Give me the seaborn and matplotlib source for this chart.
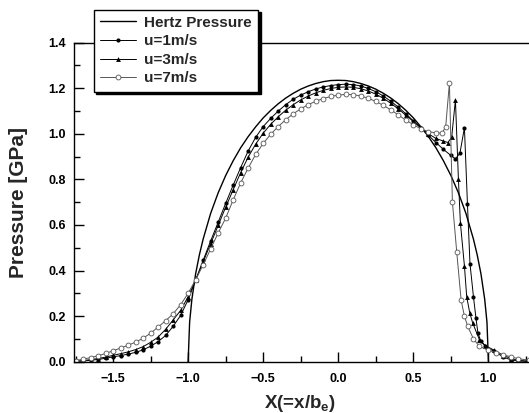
import matplotlib
matplotlib.use("Agg")
import matplotlib.pyplot as plt
import numpy as np
import pandas as pd
import seaborn as sns
from matplotlib.ticker import MultipleLocator

# Hertz pressure (dry contact)
hertz_x = [-1.0, -0.99, -0.975, -0.95, -0.925, -0.9, -0.85, -0.8, -0.75, -0.7, -0.65, -0.6,
           -0.55, -0.5, -0.45, -0.4, -0.35, -0.3, -0.25, -0.2, -0.15, -0.1, -0.05, 0.0,
           0.05, 0.1, 0.15, 0.2, 0.25, 0.3, 0.35, 0.4, 0.45, 0.5, 0.55, 0.6, 0.65, 0.7,
           0.75, 0.8, 0.85, 0.9, 0.925, 0.95, 0.975, 0.99, 1.0]
hertz_p = [0.0, 0.174, 0.274, 0.386, 0.469, 0.538, 0.651, 0.741, 0.817, 0.882, 0.939, 0.988,
           1.031, 1.070, 1.103, 1.132, 1.157, 1.178, 1.196, 1.210, 1.221, 1.229, 1.234, 1.235,
           1.234, 1.229, 1.221, 1.210, 1.196, 1.178, 1.157, 1.132, 1.103, 1.070, 1.031, 0.988,
           0.939, 0.882, 0.817, 0.741, 0.651, 0.538, 0.469, 0.386, 0.274, 0.174, 0.0]

dome_x = [-1.75, -1.7, -1.65, -1.6, -1.55, -1.5, -1.45, -1.4, -1.35, -1.3, -1.25, -1.2,
          -1.15, -1.1, -1.05, -1.0, -0.95, -0.9, -0.85, -0.8, -0.75, -0.7, -0.65, -0.6,
          -0.55, -0.5, -0.45, -0.4, -0.35, -0.3, -0.25, -0.2, -0.15, -0.1, -0.05, 0.0,
          0.05, 0.1, 0.15, 0.2, 0.25, 0.3, 0.35, 0.4, 0.45, 0.5, 0.55, 0.6, 0.65]

# u = 1 m/s
u1_x = dome_x + [0.7, 0.75, 0.78, 0.81, 0.84, 0.86, 0.877, 0.9, 0.917, 0.93, 0.95, 0.98,
                 1.04, 1.1, 1.15, 1.2, 1.27]
u1_p = [0.001, 0.003, 0.006, 0.010, 0.015, 0.021, 0.027, 0.033, 0.041, 0.052, 0.068, 0.088,
        0.115, 0.155, 0.203, 0.272, 0.358, 0.445, 0.530, 0.612, 0.695, 0.775, 0.852, 0.925,
        0.985, 1.032, 1.068, 1.100, 1.128, 1.152, 1.170, 1.185, 1.197, 1.206, 1.212, 1.216,
        1.218, 1.216, 1.210, 1.199, 1.185, 1.166, 1.143, 1.117, 1.088, 1.057, 1.026, 0.994,
        0.962,
        0.932, 0.905, 0.890, 0.915, 1.027, 0.694, 0.430, 0.286, 0.190, 0.125, 0.090, 0.067,
        0.045, 0.020, 0.008, 0.003, 0.001]

# u = 3 m/s
u3_x = dome_x + [0.7, 0.73, 0.755, 0.78, 0.8, 0.813, 0.84, 0.855, 0.875, 0.895, 0.94, 0.98,
                 1.04, 1.1, 1.15, 1.2, 1.27]
u3_p = [0.002, 0.005, 0.009, 0.014, 0.020, 0.028, 0.035, 0.043, 0.053, 0.066, 0.085, 0.108,
        0.142, 0.183, 0.225, 0.285, 0.358, 0.438, 0.518, 0.598, 0.678, 0.755, 0.830, 0.898,
        0.955, 1.003, 1.042, 1.075, 1.104, 1.128, 1.149, 1.166, 1.180, 1.191, 1.199, 1.204,
        1.206, 1.204, 1.198, 1.188, 1.174, 1.156, 1.134, 1.109, 1.082, 1.054, 1.026, 1.000,
        0.980,
        0.968, 0.962, 0.985, 1.149, 0.800, 0.610, 0.420, 0.286, 0.215, 0.170, 0.096, 0.070,
        0.050, 0.027, 0.014, 0.006, 0.002]

# u = 7 m/s
u7_x = dome_x + [0.69, 0.715, 0.74, 0.76, 0.789, 0.818, 0.84, 0.862, 0.9, 0.94, 1.0, 1.05,
                 1.1, 1.15, 1.2, 1.27]
u7_p = [0.005, 0.011, 0.018, 0.026, 0.036, 0.048, 0.060, 0.072, 0.086, 0.103, 0.125, 0.152,
        0.180, 0.210, 0.250, 0.300, 0.360, 0.425, 0.495, 0.565, 0.630, 0.710, 0.785, 0.850,
        0.910, 0.958, 0.998, 1.032, 1.062, 1.088, 1.110, 1.128, 1.143, 1.155, 1.164, 1.170,
        1.173, 1.172, 1.166, 1.156, 1.142, 1.125, 1.105, 1.083, 1.060, 1.040, 1.022, 1.010,
        1.004,
        1.003, 1.030, 1.222, 0.700, 0.480, 0.270, 0.200, 0.155, 0.100, 0.067, 0.050, 0.040,
        0.030, 0.021, 0.013, 0.007]

sns.set_theme(style="ticks")
plt.rcParams["font.family"] = ["Liberation Sans", "DejaVu Sans"]
plt.rcParams["font.weight"] = "bold"
plt.rcParams["axes.labelweight"] = "bold"
plt.rcParams["mathtext.fontset"] = "custom"
plt.rcParams["mathtext.bf"] = "Liberation Sans:bold"
plt.rcParams["mathtext.rm"] = "Liberation Sans:bold"

fig = plt.figure(figsize=(5.29, 4.13), dpi=100)
ax = fig.add_axes([74 / 529, 1 - 361.7 / 413, 455 / 529, 319 / 413])

sns.lineplot(x=hertz_x, y=hertz_p, ax=ax, color="black", linewidth=1.0,
             sort=False, estimator=None, label="Hertz Pressure")
sns.lineplot(x=u1_x, y=u1_p, ax=ax, color="black", linewidth=0.7, marker="o",
             markersize=3, markeredgewidth=0, sort=False, estimator=None, label="u=1m/s")
sns.lineplot(x=u3_x, y=u3_p, ax=ax, color="black", linewidth=0.7, marker="^",
             markersize=3.5, markeredgewidth=0, sort=False, estimator=None, label="u=3m/s")
sns.lineplot(x=u7_x, y=u7_p, ax=ax, color="#555555", linewidth=0.7, marker="o",
             markersize=3.5, markerfacecolor="white", markeredgecolor="#555555",
             markeredgewidth=0.6, sort=False, estimator=None, label="u=7m/s")

ax.set_xlim(-1.76, 1.27)
ax.set_ylim(0, 1.4)
ax.xaxis.set_major_locator(MultipleLocator(0.5))
ax.xaxis.set_minor_locator(MultipleLocator(0.25))
ax.yaxis.set_major_locator(MultipleLocator(0.2))
ax.yaxis.set_minor_locator(MultipleLocator(0.1))
ax.tick_params(which="both", direction="in", width=1.0, colors="black")
ax.tick_params(which="major", length=7, labelsize=9)
ax.tick_params(axis="x", which="major", pad=8)
ax.tick_params(axis="y", which="major", pad=6)
ax.tick_params(which="minor", length=4)
for lab in ax.get_xticklabels() + ax.get_yticklabels():
    lab.set_fontweight("bold")

for side in ["left", "bottom", "top"]:
    ax.spines[side].set_visible(True)
    ax.spines[side].set_linewidth(1.0)
    ax.spines[side].set_color("black")
ax.spines["right"].set_visible(False)

ax.set_xlabel(r"X(=x/b$_{\mathbf{e}}$)", fontsize=13.5, fontweight="bold")
ax.set_ylabel("Pressure [GPa]", fontsize=15, fontweight="bold")
ax.xaxis.set_label_coords(0.497, -0.098)
ax.yaxis.set_label_coords(-0.1, 0.5)

leg = ax.legend(loc="upper left", bbox_to_anchor=(86 / 529, 1 - 2 / 413),
                bbox_transform=fig.transFigure, frameon=True, fancybox=False,
                shadow={"color": "black", "alpha": 1.0}, numpoints=1,
                handlelength=2.4, handletextpad=0.5, labelspacing=0.3,
                borderpad=0.4, prop={"size": 11, "weight": "bold"})
leg.get_frame().set_edgecolor("black")
leg.get_frame().set_linewidth(1.0)
leg.get_frame().set_alpha(1.0)

fig.savefig("out.png", dpi=100)
